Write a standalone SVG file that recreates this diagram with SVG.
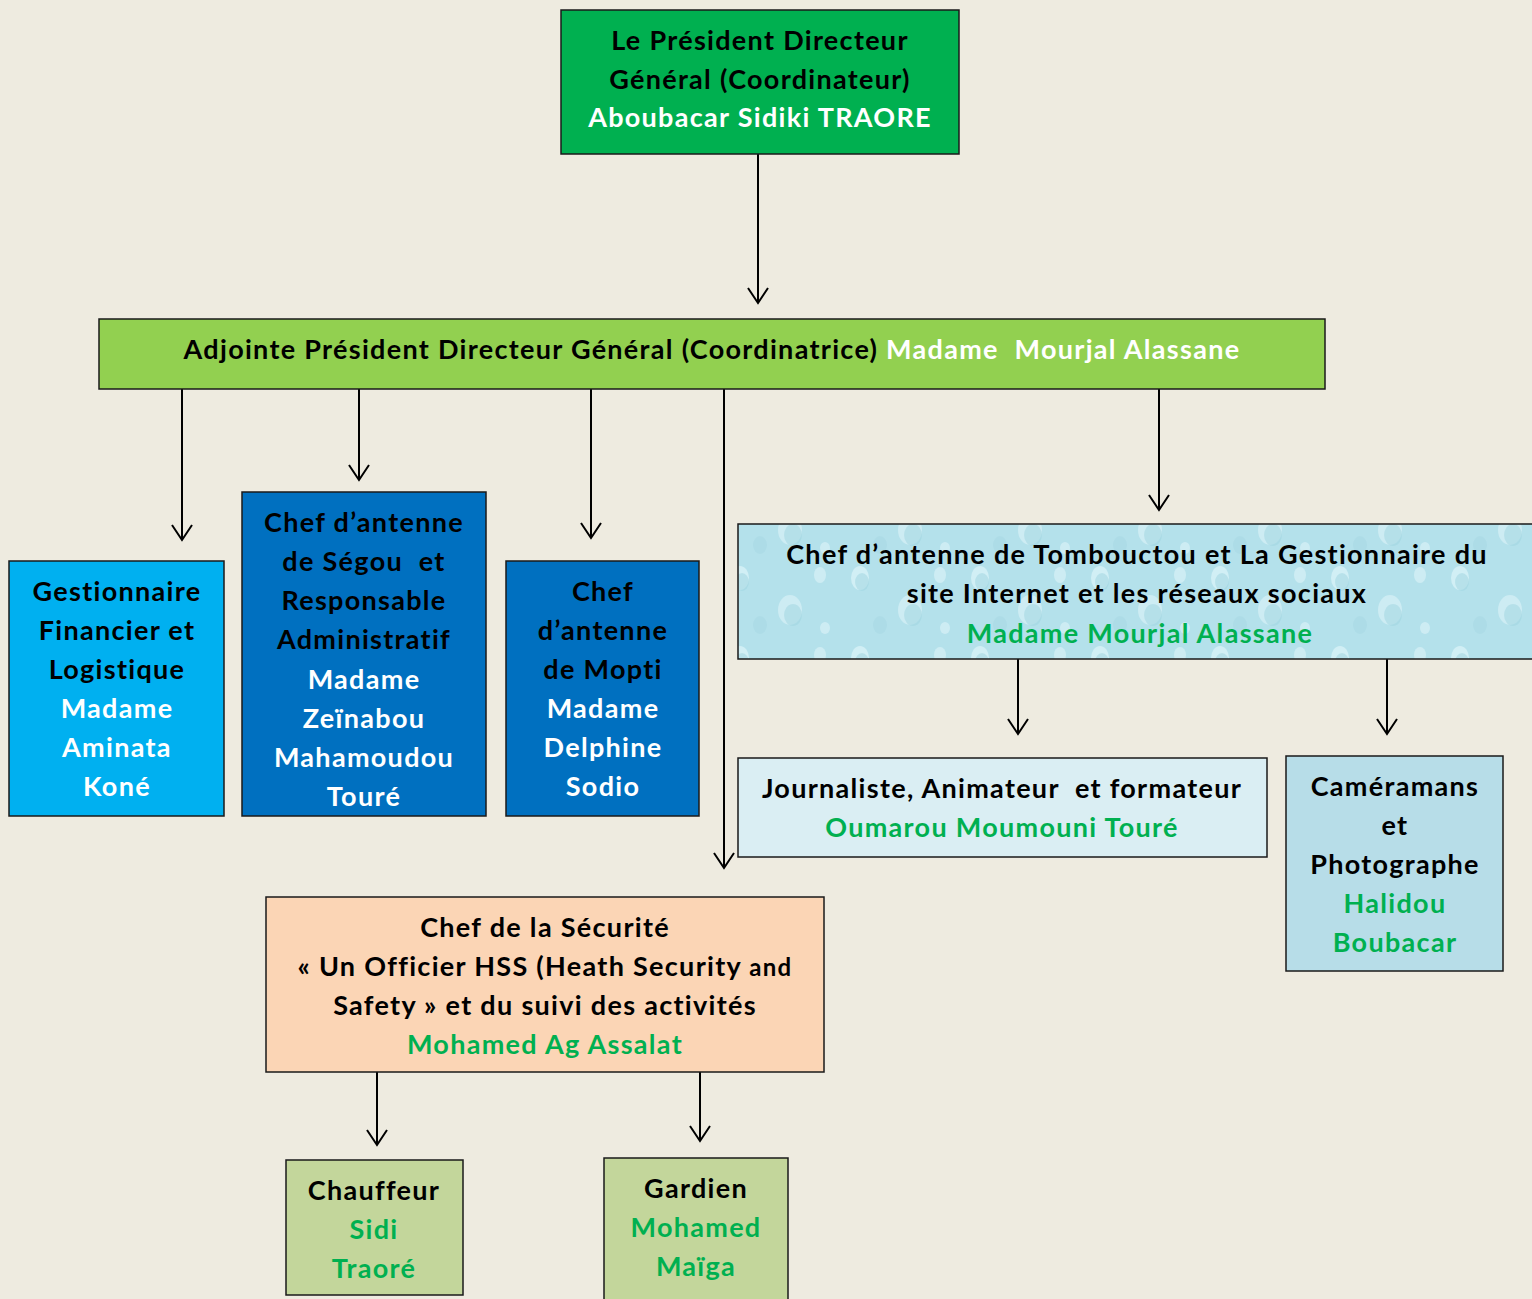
<svg xmlns="http://www.w3.org/2000/svg" width="1532" height="1299" viewBox="0 0 1532 1299">
<style>
text{font-family:Lato,"Open Sans","Liberation Sans",sans-serif;font-weight:bold;font-size:27px;letter-spacing:1.3px;text-anchor:middle;white-space:pre}
.w{fill:#ffffff}.k{fill:#000000}.g{fill:#00B050}
.box{stroke:#1a1a1a;stroke-width:1.5}
.c{stroke:#000;stroke-width:2;fill:none;marker-end:url(#ah)}
</style>
<defs>
<marker id="ah" viewBox="0 0 20 24" refX="18" refY="12" markerWidth="20" markerHeight="24" markerUnits="userSpaceOnUse" orient="auto">
<path d="M3,2 L18,12 L3,22" fill="none" stroke="#000" stroke-width="2"/>
</marker>
<pattern id="drops" width="120" height="80" patternUnits="userSpaceOnUse">
<rect width="120" height="80" fill="#B4E1EB"/>
<ellipse cx="20" cy="18" rx="9" ry="12" fill="#D8F2F7" opacity="0.8"/>
<ellipse cx="22" cy="22" rx="7" ry="9" fill="#9ED3E0" opacity="0.5"/>
<ellipse cx="70" cy="50" rx="12" ry="15" fill="#D8F2F7" opacity="0.7"/>
<ellipse cx="73" cy="55" rx="9" ry="11" fill="#9ED3E0" opacity="0.5"/>
<ellipse cx="100" cy="15" rx="6" ry="8" fill="#D8F2F7" opacity="0.7"/>
<ellipse cx="40" cy="65" rx="7" ry="9" fill="#A8D8E4" opacity="0.6"/>
<ellipse cx="105" cy="68" rx="5" ry="6" fill="#D8F2F7" opacity="0.7"/>
</pattern>
</defs>
<rect width="1532" height="1299" fill="#EEEBE0"/>

<g id="connectors">
<path class="c" d="M758,154 V303"/>
<path class="c" d="M182,389 V540"/>
<path class="c" d="M359,389 V480"/>
<path class="c" d="M591,387 V538"/>
<path class="c" d="M724,389 V868"/>
<path class="c" d="M1159,389 V510"/>
<path class="c" d="M1018,659 V734"/>
<path class="c" d="M1387,659 V734"/>
<path class="c" d="M377,1072 V1145"/>
<path class="c" d="M700,1072 V1141"/>
</g>

<g id="pdg">
<rect class="box" x="561" y="10" width="398" height="144" fill="#00B050"/>
<text x="760" y="50" class="k">Le Président Directeur</text>
<text x="760" y="89" class="k">Général (Coordinateur)</text>
<text x="760" y="127" class="w">Aboubacar Sidiki TRAORE</text>
</g>

<g id="adjointe">
<rect class="box" x="99" y="319" width="1226" height="70" fill="#92D050"/>
<text x="712" y="359"><tspan class="k">Adjointe Président Directeur Général (Coordinatrice) </tspan><tspan class="w">Madame  Mourjal Alassane</tspan></text>
</g>

<g id="gestionnaire">
<rect class="box" x="9" y="561" width="215" height="255" fill="#00B0F0"/>
<text x="117" y="601" class="k">Gestionnaire</text>
<text x="117" y="640" class="k">Financier et</text>
<text x="117" y="679" class="k">Logistique</text>
<text x="117" y="718" class="w">Madame</text>
<text x="117" y="757" class="w">Aminata</text>
<text x="117" y="796" class="w">Koné</text>
</g>

<g id="segou">
<rect class="box" x="242" y="492" width="244" height="324" fill="#0070C0"/>
<text x="364" y="532" class="k">Chef d’antenne</text>
<text x="364" y="571" class="k">de Ségou  et</text>
<text x="364" y="610" class="k">Responsable</text>
<text x="364" y="649" class="k">Administratif</text>
<text x="364" y="689" class="w">Madame</text>
<text x="364" y="728" class="w">Zeïnabou</text>
<text x="364" y="767" class="w">Mahamoudou</text>
<text x="364" y="806" class="w">Touré</text>
</g>

<g id="mopti">
<rect class="box" x="506" y="561" width="193" height="255" fill="#0070C0"/>
<text x="603" y="601" class="k">Chef</text>
<text x="603" y="640" class="k">d’antenne</text>
<text x="603" y="679" class="k">de Mopti</text>
<text x="603" y="718" class="w">Madame</text>
<text x="603" y="757" class="w">Delphine</text>
<text x="603" y="796" class="w">Sodio</text>
</g>

<g id="tombouctou">
<rect class="box" x="738" y="524" width="800" height="135" fill="url(#drops)"/>
<text x="1137" y="564" class="k">Chef d’antenne de Tombouctou et La Gestionnaire du</text>
<text x="1137" y="603" class="k">site Internet et les réseaux sociaux</text>
<text x="1140" y="643" class="g">Madame Mourjal Alassane</text>
</g>

<g id="journaliste">
<rect class="box" x="738" y="758" width="529" height="99" fill="#DAEEF3"/>
<text x="1002" y="798" class="k">Journaliste, Animateur  et formateur</text>
<text x="1002" y="837" class="g">Oumarou Moumouni Touré</text>
</g>

<g id="cameramans">
<rect class="box" x="1286" y="756" width="217" height="215" fill="#B7DDE8"/>
<text x="1395" y="796" class="k">Caméramans</text>
<text x="1395" y="835" class="k">et</text>
<text x="1395" y="874" class="k">Photographe</text>
<text x="1395" y="913" class="g">Halidou</text>
<text x="1395" y="952" class="g">Boubacar</text>
</g>

<g id="securite">
<rect class="box" x="266" y="897" width="558" height="175" fill="#FBD5B5"/>
<text x="545" y="937" class="k">Chef de la Sécurité</text>
<text x="545" y="976" class="k">« Un Officier HSS (Heath Security <tspan font-size="24">and</tspan></text>
<text x="545" y="1015" class="k">Safety » et du suivi des activités</text>
<text x="545" y="1054" class="g">Mohamed Ag Assalat</text>
</g>

<g id="chauffeur">
<rect class="box" x="286" y="1160" width="177" height="135" fill="#C3D69B"/>
<text x="374" y="1200" class="k">Chauffeur</text>
<text x="374" y="1239" class="g">Sidi</text>
<text x="374" y="1278" class="g">Traoré</text>
</g>

<g id="gardien">
<rect class="box" x="604" y="1158" width="184" height="150" fill="#C3D69B"/>
<text x="696" y="1198" class="k">Gardien</text>
<text x="696" y="1237" class="g">Mohamed</text>
<text x="696" y="1276" class="g">Maïga</text>
</g>
</svg>
